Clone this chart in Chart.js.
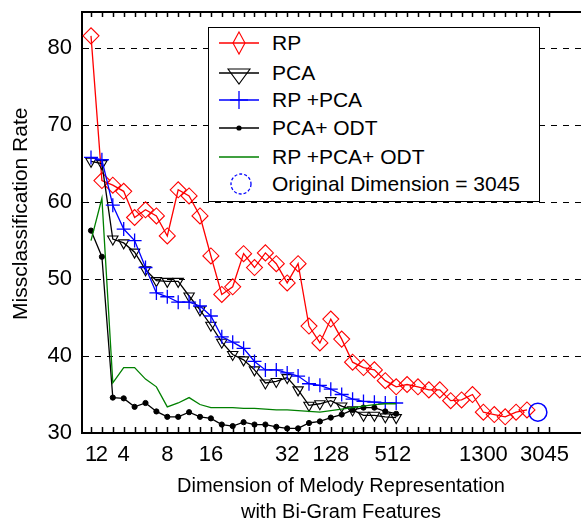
<!DOCTYPE html>
<html>
<head>
<meta charset="utf-8">
<script src="https://cdn.jsdelivr.net/npm/chart.js@4.4.1/dist/chart.umd.min.js"></script>
<style>
  html, body { margin: 0; padding: 0; background: #fff; overflow: hidden; }
  #wrap { position: relative; width: 600px; height: 521px; }
  #legend {
    position: absolute; left: 208px; top: 27px; width: 330px; height: 173px;
    border: 1.5px solid #000; background: #fff;
    font-family: "Liberation Sans", Arial, sans-serif; font-size: 21px; color: #000;
  }
  .row { position: absolute; left: 0; height: 28px; width: 330px; }
  .row svg { position: absolute; left: 0; top: 0; }
  .row span { position: absolute; left: 63px; top: 0; line-height: 28px; white-space: nowrap; }
</style>
</head>
<body>
<div id="wrap">
  <canvas id="chart" width="600" height="521"></canvas>
  <div id="legend"></div>
</div>
<script>
// x positions are the step index along the axis (one tick per step)
const tickPos = [1, 2, 4, 8, 12, 19, 23, 28.7, 37, 42.6];
const tickText = ["1", "2", "4", "8", "16", "32", "128", "512", "1300", "3045"];

const rpRate = [81.6, 62.8, 62.2, 61.4, 58.0, 59.0, 58.2, 55.6, 61.6, 60.8, 58.2, 53.0,
  48.0, 49.0, 53.3, 51.5, 53.4, 52.0, 49.5, 52.0, 43.9, 41.7, 44.8, 42.2, 39.2, 38.5,
  38.2, 36.8, 36.0, 36.3, 36.0, 35.6, 35.6, 34.2, 34.3, 35.0, 32.7, 32.4, 32.1, 32.7, 33.0];
const pcaRate = [65.3, 65.0, 55.2, 54.7, 53.5, 51.2, 49.8, 49.7, 49.7, 47.8, 46.0, 44.0,
  41.8, 40.2, 39.5, 38.2, 36.5, 36.7, 37.2, 35.6, 33.6, 33.8, 34.2, 33.5, 33.0, 32.3,
  32.3, 32.1, 32.0];
const rpPcaRate = [65.8, 65.5, 59.6, 56.5, 55.0, 51.5, 48.2, 47.7, 47.0, 47.0, 46.5, 45.2,
  42.5, 41.8, 41.0, 39.3, 38.2, 38.2, 37.8, 37.4, 36.4, 36.2, 35.7, 35.0, 34.4, 34.1,
  34.0, 33.9, 33.9];
const pcaOdtRate = [56.3, 52.9, 34.6, 34.5, 33.4, 33.9, 32.8, 32.1, 32.1, 32.7, 32.1, 31.9,
  31.1, 30.9, 31.4, 31.1, 31.1, 30.8, 30.6, 30.6, 31.3, 31.5, 32.0, 32.4, 33.0, 33.3,
  33.3, 32.8, 32.5];
const rpPcaOdtRate = [55.0, 60.5, 36.5, 38.5, 38.5, 37.0, 36.0, 33.4, 33.9, 34.6, 33.7, 33.3,
  33.3, 33.3, 33.2, 33.2, 33.1, 33.0, 33.0, 32.9, 32.8, 32.7, 32.9, 33.1, 33.3, 33.5,
  33.7, 33.8, 33.8];
const originalStep = 42;
const originalRate = 32.7;

const minorTicks = [];
for (let i = 1; i <= 43; i++) minorTicks.push(i);

const toPoints = arr => arr.map((v, i) => ({ x: i + 1, y: v }));

const FONT = '"Liberation Sans", Arial, sans-serif';
Chart.defaults.font.family = FONT;
Chart.defaults.color = "#000";

const datasets = [
  {
    label: "RP", data: toPoints(rpRate), order: 6,
    borderColor: "#ff0000", backgroundColor: "rgba(0,0,0,0)", borderWidth: 1.3,
    pointStyle: "rectRot", pointRadius: 8, pointBorderWidth: 1.1
  },
  {
    label: "PCA", data: toPoints(pcaRate), order: 5,
    borderColor: "#000", backgroundColor: "rgba(0,0,0,0)", borderWidth: 1.3,
    pointStyle: "triangle", rotation: 180, pointRadius: 6, pointBorderWidth: 1.1
  },
  {
    label: "RP +PCA", data: toPoints(rpPcaRate), order: 4,
    borderColor: "#0000ff", backgroundColor: "rgba(0,0,0,0)", borderWidth: 1.3,
    pointStyle: "cross", pointRadius: 7, pointBorderWidth: 1.3
  },
  {
    label: "PCA+ ODT", data: toPoints(pcaOdtRate), order: 3,
    borderColor: "#000", backgroundColor: "#000", borderWidth: 1.3,
    pointStyle: "circle", pointRadius: 2.6, pointBorderWidth: 1
  },
  {
    label: "RP +PCA+ ODT", data: toPoints(rpPcaOdtRate), order: 2,
    borderColor: "#008000", backgroundColor: "rgba(0,0,0,0)", borderWidth: 1.3,
    pointRadius: 0
  },
  {
    label: "Original Dimension = 3045", data: [{ x: originalStep, y: originalRate }], order: 1,
    borderColor: "#0000ff", backgroundColor: "rgba(0,0,0,0)", showLine: false,
    pointStyle: "circle", pointRadius: 9, pointBorderWidth: 1.5
  }
];
const legendMarks = ["diamond", "triangle", "cross", "dot", "none", "circle"];

// top frame line plus the small inward ticks on top and bottom
const axisFrame = {
  id: "axisFrame",
  afterDraw(c) {
    const { ctx, chartArea: a, scales: { x } } = c;
    ctx.save();
    ctx.strokeStyle = "#000";
    ctx.lineWidth = 2;
    ctx.beginPath();
    ctx.moveTo(a.left - 1, a.top);
    ctx.lineTo(a.right, a.top);
    ctx.stroke();
    ctx.lineWidth = 1.5;
    ctx.beginPath();
    minorTicks.forEach(v => {
      const px = Math.round(x.getPixelForValue(v)) + 0.5;
      ctx.moveTo(px, a.bottom);
      ctx.lineTo(px, a.bottom - 6);
      ctx.moveTo(px, a.top);
      ctx.lineTo(px, a.top + 5);
    });
    ctx.stroke();
    ctx.restore();
  }
};

new Chart(document.getElementById("chart"), {
  type: "line",
  data: { datasets },
  options: {
    responsive: false,
    animation: false,
    devicePixelRatio: 1,
    layout: { autoPadding: false, padding: { top: 12, left: 0, right: 0, bottom: 0 } },
    plugins: { legend: { display: false }, tooltip: { enabled: false } },
    scales: {
      x: {
        type: "linear",
        min: 0.174,
        max: 47.7,
        afterBuildTicks: s => { s.ticks = tickPos.map(v => ({ value: v })); },
        afterFit: s => {
          s.height = 88;
          s.paddingLeft = 0; s.paddingRight = 0;
        },
        ticks: {
          autoSkip: false, maxRotation: 0, minRotation: 0, padding: 9,
          font: { size: 22 },
          callback: (v, i) => tickText[i]
        },
        grid: { color: "rgba(0,0,0,0)", drawTicks: false },
        border: { display: true, color: "#000", width: 2 },
        title: {
          display: true,
          text: ["Dimension of Melody Representation", "with Bi-Gram Features"],
          font: { size: 20, lineHeight: 1.3 },
          padding: { top: 0, bottom: -4 }
        }
      },
      y: {
        min: 30,
        max: 84.7,
        afterFit: s => {
          s.width = 82;
          s.paddingTop = 0; s.paddingBottom = 0;
        },
        ticks: { stepSize: 10, includeBounds: false, padding: 10, font: { size: 22 } },
        grid: { color: "#000", lineWidth: 1, drawTicks: false },
        border: { display: true, color: "#000", width: 2, dash: [6, 6] },
        title: {
          display: true,
          text: "\u00a0\u00a0\u00a0Missclassification Rate",
          font: { size: 21, lineHeight: 1.2 },
          padding: { top: 9, bottom: 0 }
        }
      }
    }
  },
  plugins: [axisFrame]
});

// legend box: line sample + marker + label, built from the datasets
const rowTops = [1, 31, 58, 86, 115, 142];
function markerSvg(kind, color, withLine) {
  let s = '<svg width="60" height="28" viewBox="0 0 60 28">';
  if (withLine) s += `<line x1="10" y1="14" x2="50" y2="14" stroke="${color}" stroke-width="1.3"/>`;
  if (kind === "diamond") s += `<polygon points="30,3 36,14 30,25 24,14" fill="none" stroke="${color}" stroke-width="1.1"/>`;
  if (kind === "triangle") s += `<polygon points="19,10 41,10 30,25" fill="none" stroke="${color}" stroke-width="1.1"/>`;
  if (kind === "cross") s += `<line x1="30" y1="5" x2="30" y2="23" stroke="${color}" stroke-width="1.3"/><line x1="21" y1="14" x2="39" y2="14" stroke="${color}" stroke-width="1.3"/>`;
  if (kind === "dot") s += `<circle cx="30" cy="14" r="2.6" fill="${color}"/>`;
  if (kind === "circle") s += `<circle cx="32" cy="14" r="10" fill="none" stroke="${color}" stroke-width="1.3" stroke-dasharray="3 2"/>`;
  return s + "</svg>";
}
const legendEl = document.getElementById("legend");
legendEl.innerHTML = datasets.map((d, i) => `
  <div class="row" style="top:${rowTops[i]}px">
    ${markerSvg(legendMarks[i], d.borderColor, d.showLine !== false)}
    <span>${d.label}</span>
  </div>`).join("");
</script>
</body>
</html>
